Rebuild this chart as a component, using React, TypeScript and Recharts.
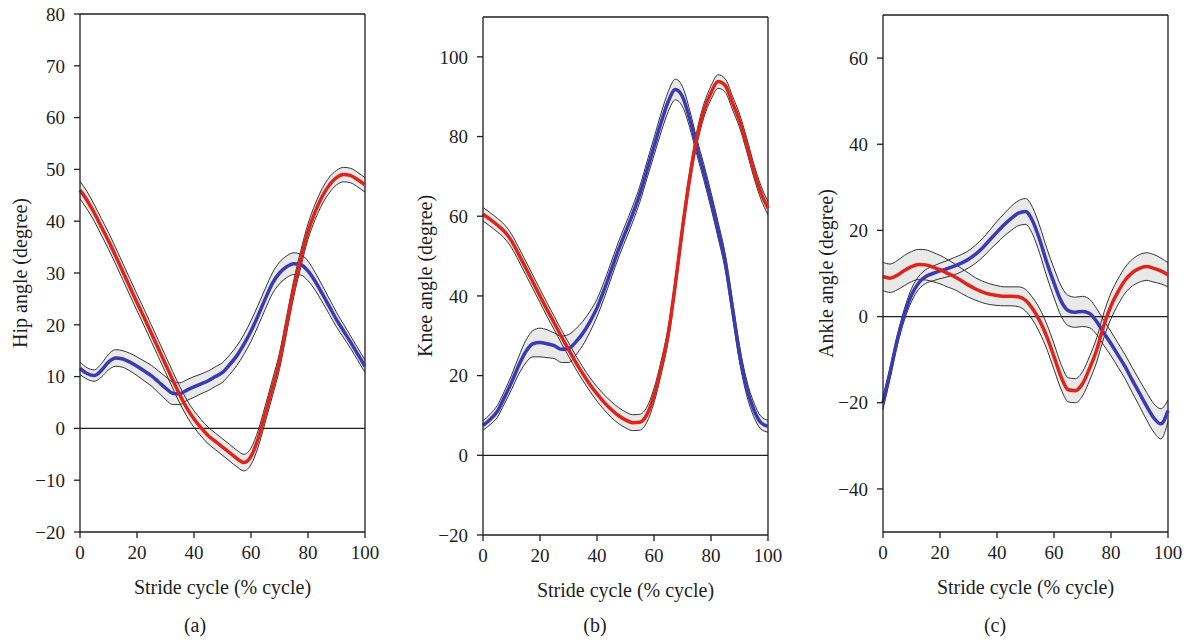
import React from 'react';
import {
  ComposedChart,
  Area,
  Line,
  XAxis,
  YAxis,
  ReferenceLine,
} from 'recharts';

// stride cycle sample points (% of cycle)
const STRIDE = [
  0, 2.5, 5, 7.5, 10, 12.5, 15, 17.5, 20, 22.5, 25, 27.5, 30, 32.5, 35, 37.5, 40,
  42.5, 45, 47.5, 50, 52.5, 55, 57.5, 60, 62.5, 65, 67.5, 70, 72.5, 75, 77.5, 80,
  82.5, 85, 87.5, 90, 92.5, 95, 97.5, 100,
];
const X_TICKS = [0, 20, 40, 60, 80, 100];

// (a) hip
const hipBlue = [
  11.6, 10.6, 10.2, 11.2, 12.8, 13.6, 13.4, 12.8, 12.0, 11.1, 10.2, 9.0, 7.8, 6.8,
  6.7, 7.4, 8.0, 8.6, 9.2, 10.0, 10.8, 12.3, 14.0, 16.2, 18.8, 21.8, 25.0, 28.0,
  30.0, 31.2, 31.8, 31.6, 30.4, 28.4, 26.0, 23.5, 21.0, 18.8, 16.6, 14.3, 12.0,
];
const hipBlueSd = [
  1.2, 1.1, 1.1, 1.3, 1.5, 1.6, 1.6, 1.7, 1.8, 1.9, 2.0, 2.1, 2.2, 2.2, 2.1, 2.0,
  2.0, 1.9, 1.9, 1.9, 1.9, 1.9, 1.9, 1.9, 2.0, 2.0, 2.0, 2.0, 2.1, 2.1, 2.1, 2.0,
  1.9, 1.7, 1.6, 1.5, 1.4, 1.3, 1.2, 1.2, 1.2,
];
const hipRed = [
  46.0, 44.0, 41.6, 38.9, 36.2, 33.3, 30.3, 27.3, 24.3, 21.4, 18.4, 15.4, 12.4,
  9.4, 6.5, 3.9, 1.8, 0.1, -1.4, -2.5, -3.6, -4.7, -5.8, -6.6, -5.4, -2.0, 2.8,
  7.8, 13.0, 20.0, 27.0, 32.8, 38.0, 41.8, 44.8, 47.0, 48.4, 49.0, 48.8, 48.0, 47.0,
];
const hipRedSd = [
  1.7, 1.7, 1.6, 1.6, 1.6, 1.6, 1.6, 1.6, 1.6, 1.6, 1.6, 1.6, 1.6, 1.6, 1.6, 1.6,
  1.6, 1.6, 1.6, 1.6, 1.6, 1.6, 1.6, 1.6, 1.6, 1.6, 1.6, 1.6, 1.6, 1.6, 1.6, 1.6,
  1.5, 1.5, 1.5, 1.5, 1.4, 1.4, 1.4, 1.4, 1.4,
];
const hipTicks = [-20, -10, 0, 10, 20, 30, 40, 50, 60, 70, 80];

// (b) knee
const kneeBlue = [
  7.5, 9.0, 11.0, 14.5, 18.3, 22.5, 26.0, 28.0, 28.3, 28.0, 27.5, 26.6, 26.8, 28.4,
  30.6, 33.5, 37.0, 41.5, 46.5, 51.5, 56.0, 60.5, 65.5, 71.5, 77.5, 83.5, 88.8,
  91.8, 90.0, 84.5, 77.5, 71.0, 64.0, 56.5, 48.5, 37.0, 25.5, 17.0, 11.5, 8.2, 7.3,
];
const kneeBlueSd = [
  1.2, 1.3, 1.5, 1.6, 1.8, 2.2, 2.8, 3.3, 3.6, 3.5, 3.2, 3.3, 3.5, 3.3, 3.0, 2.6,
  2.2, 2.1, 2.0, 2.0, 2.0, 2.0, 2.0, 2.1, 2.2, 2.4, 2.5, 2.6, 2.5, 2.2, 2.0, 2.0,
  2.0, 2.0, 2.0, 2.0, 2.0, 1.9, 1.8, 1.6, 1.5,
];
const kneeRed = [
  60.5, 59.2, 57.8, 56.2, 53.8, 50.5, 47.0, 43.5, 40.0, 36.5, 33.2, 29.8, 26.6,
  23.4, 20.5, 17.8, 15.4, 13.3, 11.5, 10.0, 8.9, 8.2, 8.3, 10.2, 15.0, 22.0, 30.5,
  43.0, 57.0, 69.5, 79.5, 86.5, 91.0, 93.8, 92.8, 88.5, 84.0, 78.0, 71.5, 66.0, 62.0,
];
const kneeRedSd = [
  1.7, 1.7, 1.7, 1.7, 1.7, 1.7, 1.7, 1.7, 1.7, 1.7, 1.7, 1.7, 1.7, 1.7, 1.7, 1.7,
  1.8, 1.9, 2.0, 2.0, 2.0, 2.0, 2.0, 1.9, 1.8, 1.7, 1.7, 1.7, 1.7, 1.7, 1.7, 1.7,
  1.7, 1.7, 1.7, 1.7, 1.7, 1.7, 1.7, 1.7, 1.7,
];
const kneeTicks = [-20, 0, 20, 40, 60, 80, 100];

// (c) ankle
const ankleBlue = [
  -20.0, -13.0, -5.5, 0.5, 5.0, 7.8, 9.3, 10.0, 10.6, 11.1, 11.7, 12.4, 13.3, 14.5,
  16.0, 17.8, 19.6, 21.3, 22.8, 24.0, 24.4, 22.2, 17.8, 12.5, 7.8, 3.6, 1.4, 1.0,
  1.2, 0.7, -1.2, -3.8, -6.3, -9.0, -11.7, -14.8, -17.8, -20.8, -23.5, -24.9, -21.8,
];
const ankleBlueSd = [
  1.5, 1.3, 1.2, 1.3, 1.5, 1.5, 1.6, 1.7, 1.8, 1.9, 2.0, 2.0, 2.0, 2.1, 2.2, 2.3,
  2.5, 2.6, 2.8, 2.9, 3.0, 3.1, 3.2, 3.3, 3.4, 3.5, 3.5, 3.5, 3.5, 3.3, 3.0, 2.9,
  2.8, 2.8, 2.8, 2.9, 3.0, 3.2, 3.3, 3.5, 2.5,
];
const ankleRed = [
  9.3, 8.9, 9.6, 10.7, 11.6, 12.1, 12.0, 11.5, 10.9, 10.1, 9.3, 8.3, 7.3, 6.4, 5.7,
  5.2, 4.9, 4.7, 4.7, 4.6, 3.8, 1.8, -1.0, -4.7, -9.3, -14.0, -17.0, -17.2, -15.6,
  -12.0, -7.7, -2.0, 2.5, 5.8, 8.5, 10.2, 11.2, 11.6, 11.2, 10.6, 9.7,
];
const ankleRedSd = [
  3.3, 3.3, 3.4, 3.5, 3.5, 3.5, 3.5, 3.4, 3.3, 3.2, 3.0, 2.9, 2.8, 2.6, 2.5, 2.4,
  2.3, 2.2, 2.2, 2.3, 2.5, 2.6, 2.8, 2.9, 3.0, 2.9, 2.8, 2.8, 2.8, 2.8, 2.8, 2.9,
  3.0, 3.0, 3.0, 3.1, 3.2, 3.2, 3.2, 3.0, 2.8,
];
const ankleTicks = [-40, -20, 0, 20, 40, 60];

const BLUE = '#3a3ab4';
const RED = '#e0241a';
const BAND = '#e9e9e9';
const INK = '#1e1e1e';
const FONT = '"Liberation Serif", "DejaVu Serif", serif';

const buildRows = (blue: number[], blueSd: number[], red: number[], redSd: number[]) =>
  STRIDE.map((x, i) => ({
    x,
    blue: blue[i],
    blueBand: [blue[i] - blueSd[i], blue[i] + blueSd[i]],
    blueLo: blue[i] - blueSd[i],
    blueHi: blue[i] + blueSd[i],
    red: red[i],
    redBand: [red[i] - redSd[i], red[i] + redSd[i]],
    redLo: red[i] - redSd[i],
    redHi: red[i] + redSd[i],
  }));

// typographic minus for negative ticks
const fmtTick = (v: number) => (v < 0 ? `\u2212${Math.abs(v)}` : `${v}`);

interface PanelProps {
  left: number;
  width: number;
  margin: { top: number; right: number; bottom: number; left: number };
  yAxisWidth: number;
  yDomain: [number, number];
  yTicks: number[];
  yLabel: string;
  yLabelX: number;
  caption: string;
  captionX: number;
  rows: ReturnType<typeof buildRows>;
}

const HEIGHT = 642;
const X_AXIS_H = 30;

const Panel: React.FC<PanelProps> = ({
  left, width, margin, yAxisWidth, yDomain, yTicks, yLabel, yLabelX, caption, captionX, rows,
}) => {
  const plotTop = margin.top;
  const plotBottom = HEIGHT - margin.bottom - X_AXIS_H;
  const cy = (plotTop + plotBottom) / 2;
  const tickStyle = { fontSize: 19, fill: INK, fontFamily: FONT };

  const YTitle = () => (
    <text
      x={yLabelX}
      y={cy}
      transform={`rotate(-90 ${yLabelX} ${cy})`}
      textAnchor="middle"
      dominantBaseline="central"
      fontSize={20}
      fill={INK}
      fontFamily={FONT}
    >
      {yLabel}
    </text>
  );

  return (
    <div style={{ position: 'absolute', left, top: 0, width, height: HEIGHT }}>
      <ComposedChart width={width} height={HEIGHT} data={rows} margin={margin}>
        <XAxis
          dataKey="x"
          type="number"
          domain={[0, 100]}
          ticks={X_TICKS}
          height={X_AXIS_H}
          tickSize={6}
          tickMargin={8}
          tick={tickStyle}
          axisLine={{ stroke: INK, strokeWidth: 1.3 }}
          tickLine={{ stroke: INK, strokeWidth: 1.3 }}
          label={{ value: 'Stride cycle (% cycle)', position: 'bottom', offset: 18, fontSize: 20, fill: INK, fontFamily: FONT }}
        />
        <YAxis
          type="number"
          domain={yDomain}
          ticks={yTicks}
          width={yAxisWidth}
          allowDataOverflow
          tickSize={6}
          tickMargin={9}
          tick={tickStyle}
          tickFormatter={fmtTick}
          axisLine={{ stroke: INK, strokeWidth: 1.3 }}
          tickLine={{ stroke: INK, strokeWidth: 1.3 }}
          label={<YTitle />}
        />
        <ReferenceLine y={yDomain[1]} stroke={INK} strokeWidth={1.3} />
        <ReferenceLine x={100} stroke={INK} strokeWidth={1.3} />
        <ReferenceLine y={0} stroke={INK} strokeWidth={1.2} />

        <Area dataKey="blueBand" type="monotone" stroke="none" fill={BAND} fillOpacity={1} isAnimationActive={false} />
        <Area dataKey="redBand" type="monotone" stroke="none" fill={BAND} fillOpacity={1} isAnimationActive={false} />

        <Line dataKey="blueLo" type="monotone" stroke={INK} strokeWidth={0.9} dot={false} isAnimationActive={false} />
        <Line dataKey="blueHi" type="monotone" stroke={INK} strokeWidth={0.9} dot={false} isAnimationActive={false} />
        <Line dataKey="redLo" type="monotone" stroke={INK} strokeWidth={0.9} dot={false} isAnimationActive={false} />
        <Line dataKey="redHi" type="monotone" stroke={INK} strokeWidth={0.9} dot={false} isAnimationActive={false} />

        <Line dataKey="blue" type="monotone" stroke={BLUE} strokeWidth={3.5} dot={false} isAnimationActive={false} />
        <Line dataKey="red" type="monotone" stroke={RED} strokeWidth={3.5} dot={false} isAnimationActive={false} />
      </ComposedChart>
      <div
        style={{
          position: 'absolute',
          left: captionX,
          top: 625,
          transform: 'translate(-50%, -50%)',
          fontFamily: FONT,
          fontSize: 20,
          color: INK,
          whiteSpace: 'nowrap',
        }}
      >
        {caption}
      </div>
    </div>
  );
};

const hipRows = buildRows(hipBlue, hipBlueSd, hipRed, hipRedSd);
const kneeRows = buildRows(kneeBlue, kneeBlueSd, kneeRed, kneeRedSd);
const ankleRows = buildRows(ankleBlue, ankleBlueSd, ankleRed, ankleRedSd);

const App: React.FC = () => (
  <div
    style={{
      position: 'absolute',
      left: 0,
      top: 0,
      width: 1193,
      height: 642,
      background: '#fff',
      fontFamily: FONT,
      overflow: 'hidden',
    }}
  >
    <Panel
      left={0}
      width={400}
      margin={{ top: 14, right: 35, bottom: 80, left: 10 }}
      yAxisWidth={70}
      yDomain={[-20, 80]}
      yTicks={hipTicks}
      yLabel="Hip angle (degree)"
      yLabelX={20}
      caption="(a)"
      captionX={195}
      rows={hipRows}
    />
    <Panel
      left={400}
      width={400}
      margin={{ top: 17, right: 32, bottom: 77, left: 10 }}
      yAxisWidth={73}
      yDomain={[-20, 110]}
      yTicks={kneeTicks}
      yLabel="Knee angle (degree)"
      yLabelX={25}
      caption="(b)"
      captionX={195}
      rows={kneeRows}
    />
    <Panel
      left={800}
      width={393}
      margin={{ top: 15, right: 25, bottom: 80, left: 10 }}
      yAxisWidth={73}
      yDomain={[-50, 70]}
      yTicks={ankleTicks}
      yLabel="Ankle angle (degree)"
      yLabelX={26}
      caption="(c)"
      captionX={195}
      rows={ankleRows}
    />
  </div>
);

export default App;
